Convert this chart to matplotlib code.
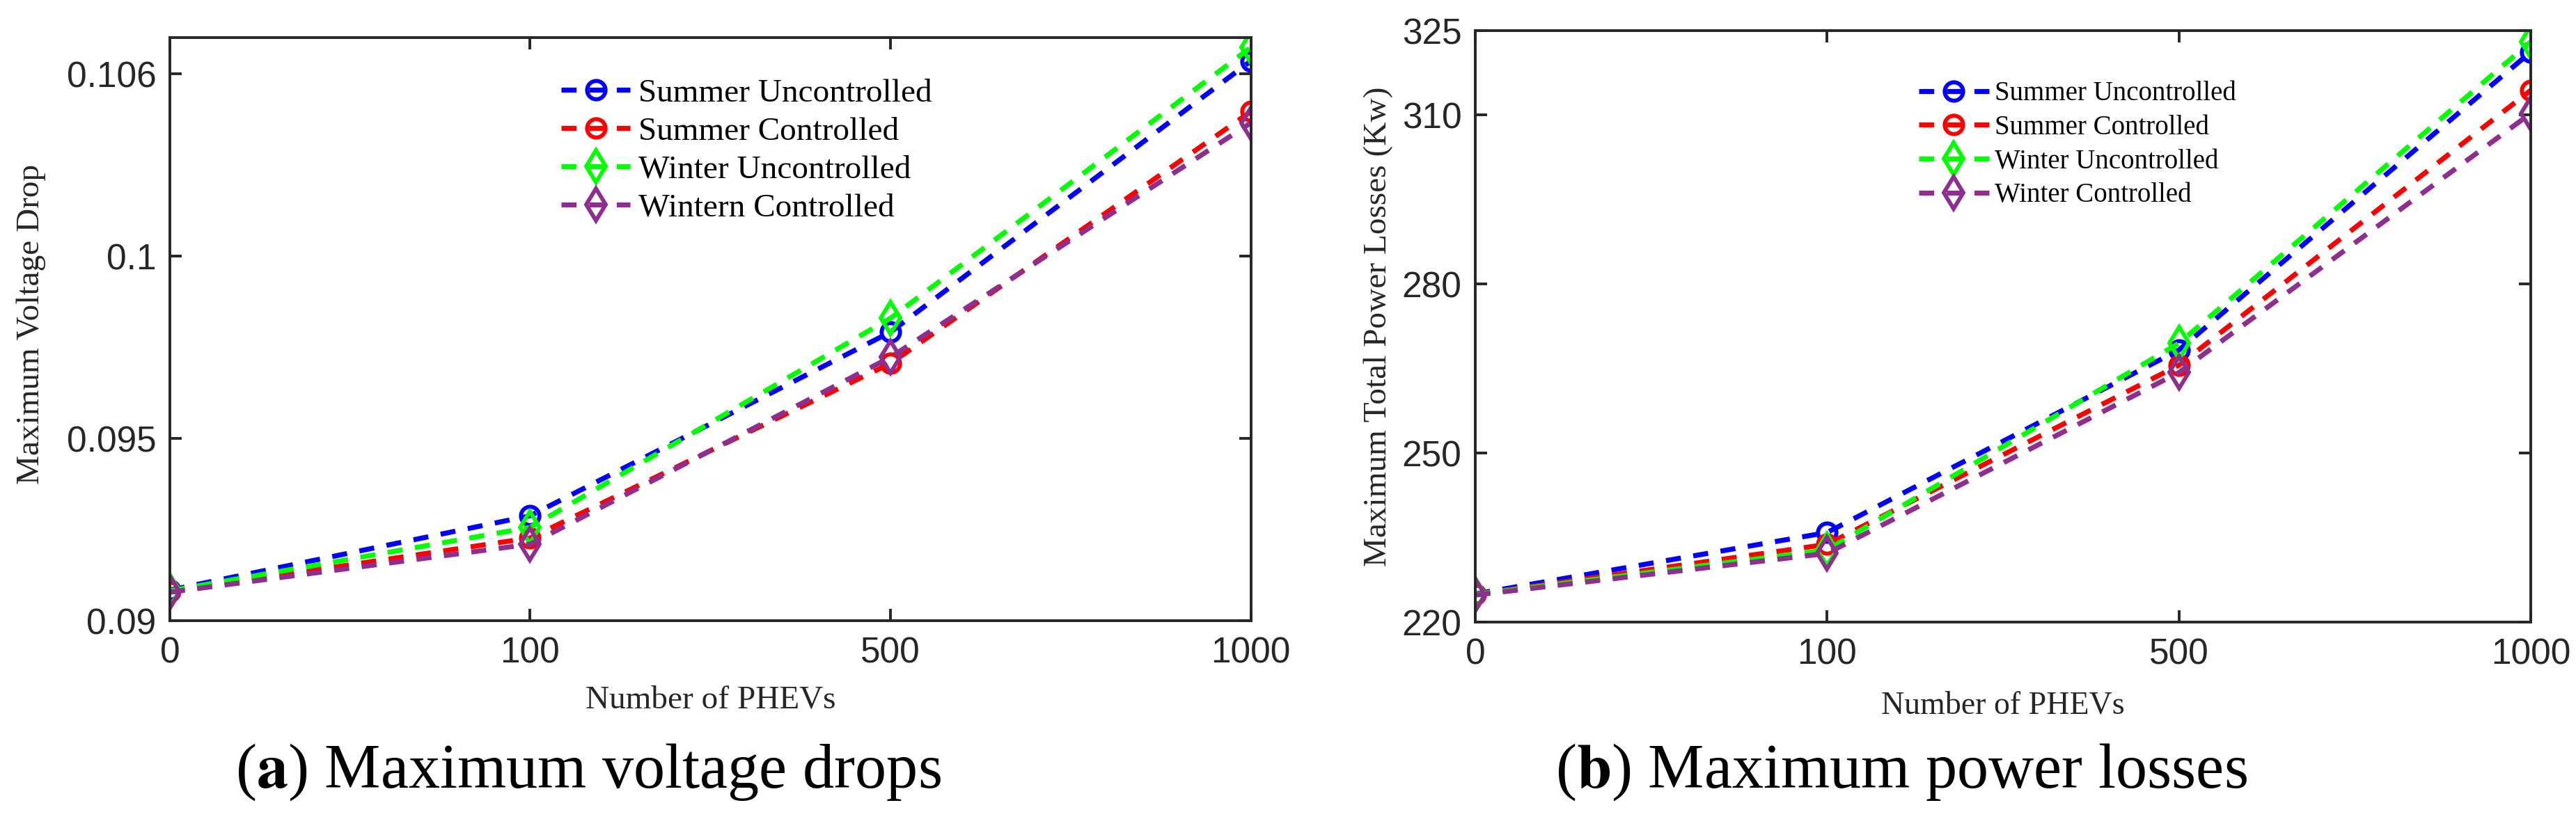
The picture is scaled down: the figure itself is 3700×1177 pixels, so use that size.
import matplotlib
matplotlib.use("Agg")
import matplotlib.pyplot as plt

# data
phev_labels = ['0', '100', '500', '1000']

vd_summer_unc = [0.09084, 0.09288, 0.09792, 0.10536]
vd_summer_ctrl = [0.09080, 0.09227, 0.09706, 0.10397]
vd_winter_unc = [0.09082, 0.09256, 0.09830, 0.10573]
vd_winter_ctrl = [0.09078, 0.09210, 0.09723, 0.10366]

pl_summer_unc = [225.0, 235.9, 268.3, 321.2]
pl_summer_ctrl = [224.9, 233.8, 265.6, 314.4]
pl_winter_unc = [224.9, 232.8, 269.5, 323.0]
pl_winter_ctrl = [224.8, 232.2, 264.3, 310.3]

vd_ticks = [0.09, 0.095, 0.1, 0.105]
vd_ticklabels = ['0.09', '0.095', '0.1', '0.106']
pl_ticks = [220, 250, 280, 310, 325]

legend_a = ['Summer Uncontrolled', 'Summer Controlled', 'Winter Uncontrolled', 'Wintern Controlled']
legend_b = ['Summer Uncontrolled', 'Summer Controlled', 'Winter Uncontrolled', 'Winter Controlled']

colors = ['#0000ff', '#ff0000', '#00ff00', '#8e2e8e']
markers = ['o', 'o', 'd', 'd']

serif = ['Liberation Serif', 'DejaVu Serif']
narrow = ['Liberation Sans Narrow', 'Liberation Sans', 'DejaVu Sans']
plt.rcParams['mathtext.fontset'] = 'stix'

fig = plt.figure(figsize=(37, 11.77), dpi=100)
ax1 = fig.add_axes([0.0659, 0.2421, 0.4197, 0.7120])
ax2 = fig.add_axes([0.5727, 0.2404, 0.4097, 0.7222])

xs = list(range(len(phev_labels)))


def style_axes(ax):
    for s in ax.spines.values():
        s.set_linewidth(2.8)
        s.set_color('#262626')
    ax.tick_params(direction='in', length=12, width=2.8, color='#262626',
                   top=True, right=True, labelsize=37, labelcolor='#262626')
    ax.tick_params(axis='x', pad=16)
    ax.tick_params(axis='y', pad=14)
    ax.set_xlim(0, 3)
    ax.set_xticks(xs)
    ax.set_xticklabels(phev_labels, family=narrow)


def draw_lines(ax, series, labels):
    for vals, c, m, lab in zip(series, colors, markers, labels):
        ax.plot(xs, vals, linestyle=(0, (3.0, 2.5)), linewidth=5.2, color=c,
                marker=m, markersize=19 if m == 'o' else 23, markerfacecolor='none',
                markeredgewidth=4.2, markeredgecolor=c, label=lab)


# (a) voltage drops
draw_lines(ax1, [vd_summer_unc, vd_summer_ctrl, vd_winter_unc, vd_winter_ctrl], legend_a)
style_axes(ax1)
ax1.set_ylim(0.09, 0.106)
ax1.set_yticks(vd_ticks)
ax1.set_yticklabels(vd_ticklabels, family=narrow)
ax1.set_xlabel('Number of PHEVs', family=serif, fontsize=34, color='#262626', va='center')
ax1.xaxis.set_label_coords(0.5, -0.136)
ax1.set_ylabel('Maximum Voltage Drop', family=serif, fontsize=34, color='#262626', va='center')
ax1.yaxis.set_label_coords(-0.128, 0.508)
ax1.legend(loc='upper left', bbox_to_anchor=(0.362, 0.93), frameon=False,
           prop={'family': serif, 'size': 34}, borderpad=0, borderaxespad=0,
           handlelength=2.1, handletextpad=0.25, labelspacing=0.25, numpoints=1)

# (b) power losses
draw_lines(ax2, [pl_summer_unc, pl_summer_ctrl, pl_winter_unc, pl_winter_ctrl], legend_b)
style_axes(ax2)
ax2.set_ylim(220, 325)
ax2.set_yticks(pl_ticks)
ax2.set_yticklabels([str(t) for t in pl_ticks], family=narrow)
ax2.set_xlabel('Number of PHEVs', family=serif, fontsize=33, color='#262626', va='center')
ax2.xaxis.set_label_coords(0.5, -0.141)
ax2.set_ylabel('Maximum Total Power Losses (Kw)', family=serif, fontsize=34, color='#262626', va='center')
ax2.yaxis.set_label_coords(-0.0917, 0.5)
ax2.legend(loc='upper left', bbox_to_anchor=(0.42, 0.915), frameon=False,
           prop={'family': serif, 'size': 28}, borderpad=0, borderaxespad=0,
           handlelength=2.6, handletextpad=0.2, labelspacing=0.3, numpoints=1)

# captions
fig.text(0.2284, 0.0569, r'($\mathbf{a}$) Maximum voltage drops', family=serif,
         fontsize=65, ha='center', va='center')
fig.text(0.738, 0.0569, r'($\mathbf{b}$) Maximum power losses', family=serif,
         fontsize=65, ha='center', va='center')

fig.savefig('out.png', dpi=100)
